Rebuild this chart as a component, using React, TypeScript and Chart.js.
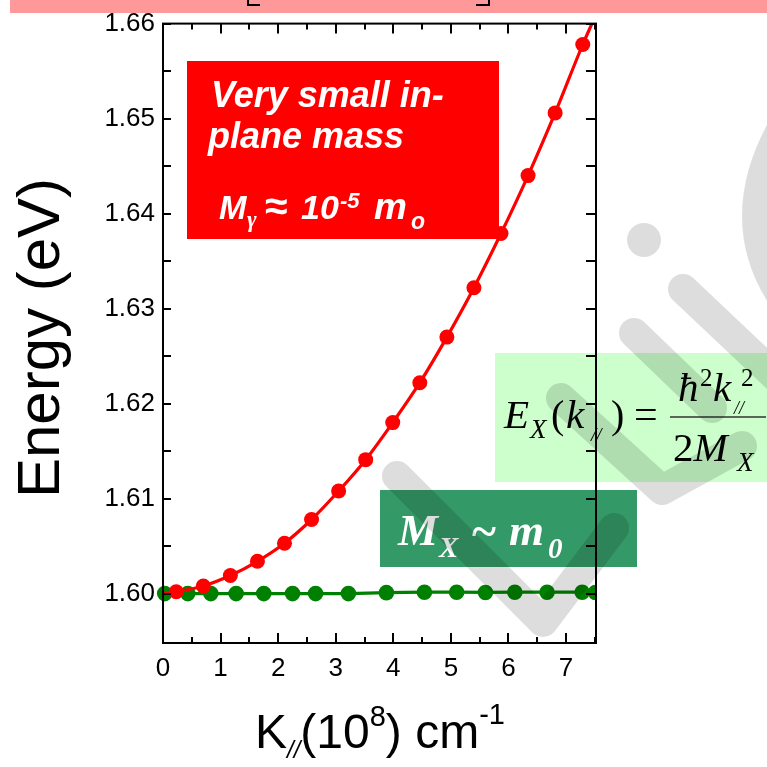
import React, { useEffect, useRef } from "react";
import { Chart, registerables } from "chart.js";
Chart.register(...registerables);

// ---- data ----
const redK = [0.23, 0.70, 1.17, 1.64, 2.11, 2.58, 3.05, 3.52, 3.99, 4.46, 4.93, 5.40, 5.87, 6.34, 6.81, 7.29];
const redE = [1.6002, 1.6008, 1.6019, 1.6034, 1.6053, 1.6078, 1.6108, 1.6141, 1.6180, 1.6222, 1.6270, 1.6322, 1.6379, 1.6440, 1.6506, 1.6578];
const redFitStart = { k: 0, e: 1.6000 };
const redFitEnd = { k: 7.45, e: 1.6600 };
const greenK = [0.03, 0.43, 0.83, 1.27, 1.75, 2.25, 2.65, 3.22, 3.88, 4.54, 5.10, 5.60, 6.11, 6.67, 7.28, 7.51];
const greenE = [1.6000, 1.6000, 1.6000, 1.6000, 1.6000, 1.6000, 1.6000, 1.6000, 1.60010, 1.60015, 1.60015, 1.60012, 1.60015, 1.60015, 1.60015, 1.60012];
const xTicks = [0, 1, 2, 3, 4, 5, 6, 7];
const xMinor = [0.5, 1.5, 2.5, 3.5, 4.5, 5.5, 6.5, 7.5];
const yTicks = [1.60, 1.61, 1.62, 1.63, 1.64, 1.65, 1.66];
const yMinor = [1.605, 1.615, 1.625, 1.635, 1.645, 1.655];
const yTickLabels = ["1.60", "1.61", "1.62", "1.63", "1.64", "1.65", "1.66"];

const SANS = "'Liberation Sans', Arial, sans-serif";
const SERIF = "'Liberation Serif', 'Times New Roman', serif";

type Seg = { t: string; f: string; x?: number; dy?: number; dx?: number };
function drawRich(ctx: CanvasRenderingContext2D, x: number, y: number, segs: Seg[], color: string) {
  ctx.fillStyle = color;
  ctx.textAlign = "left";
  ctx.textBaseline = "alphabetic";
  let cx = x;
  for (const s of segs) {
    ctx.font = s.f;
    if (s.x !== undefined) cx = s.x;
    cx += s.dx || 0;
    ctx.fillText(s.t, cx, y + (s.dy || 0));
    cx += ctx.measureText(s.t).width;
  }
}

const decorPlugin = {
  id: "decor",
  beforeDraw(chart: any) {
    const ctx: CanvasRenderingContext2D = chart.ctx;
    ctx.save();
    ctx.fillStyle = "#ffffff";
    ctx.fillRect(0, 0, chart.width, chart.height);
    ctx.fillStyle = "#FF9999";
    ctx.fillRect(10, 0, 757, 13);
    ctx.strokeStyle = "#000";
    ctx.lineWidth = 2;
    ctx.beginPath();
    ctx.moveTo(248, 0); ctx.lineTo(248, 5); ctx.lineTo(260, 5);
    ctx.moveTo(476, 5); ctx.lineTo(489, 5); ctx.lineTo(489, 0);
    ctx.stroke();
    ctx.restore();
  },
  beforeDatasetsDraw(chart: any) {
    const ctx: CanvasRenderingContext2D = chart.ctx;
    ctx.save();
    // red box
    ctx.fillStyle = "#FF0000";
    ctx.fillRect(187, 61, 312, 178);
    drawRich(ctx, 211, 107, [{ t: "Very small in-", f: `italic bold 36px ${SANS}` }], "#fff");
    drawRich(ctx, 208, 148, [{ t: "plane mass", f: `italic bold 36px ${SANS}` }], "#fff");
    const W = "#fff";
    drawRich(ctx, 0, 219, [{ t: "M", f: `italic bold 33px ${SANS}`, x: 219 }], W);
    drawRich(ctx, 0, 227, [{ t: "\u03b3", f: `italic bold 23px ${SERIF}`, x: 247 }], W);
    drawRich(ctx, 0, 220, [{ t: "\u2248", f: `bold 41px ${SANS}`, x: 265 }], W);
    drawRich(ctx, 0, 219, [{ t: "10", f: `italic bold 34px ${SANS}`, x: 301 }], W);
    drawRich(ctx, 0, 208, [{ t: "-5", f: `italic bold 22px ${SANS}`, x: 340 }], W);
    drawRich(ctx, 0, 219, [{ t: "m", f: `italic bold 37px ${SANS}`, x: 374 }], W);
    drawRich(ctx, 0, 229, [{ t: "o", f: `italic bold 23px ${SANS}`, x: 411 }], W);
    // light green formula box
    ctx.fillStyle = "#CCFFCC";
    ctx.fillRect(495, 353, 272, 129);
    const K = "#000";
    drawRich(ctx, 504, 428, [{ t: "E", f: `italic 41px ${SERIF}` }], K);
    drawRich(ctx, 530, 438, [{ t: "X", f: `italic 27px ${SERIF}` }], K);
    drawRich(ctx, 551, 428, [{ t: "(", f: `40px ${SERIF}` }], K);
    drawRich(ctx, 566, 428, [{ t: "k", f: `italic 41px ${SERIF}` }], K);
    drawRich(ctx, 591, 441, [{ t: "//", f: `italic 19px ${SERIF}` }], K);
    drawRich(ctx, 611, 428, [{ t: ")", f: `40px ${SERIF}` }], K);
    drawRich(ctx, 634, 428, [{ t: "=", f: `42px ${SERIF}` }], K);
    drawRich(ctx, 678, 401, [{ t: "\u0127", f: `italic 41px ${SERIF}` }], K);
    drawRich(ctx, 700, 386, [{ t: "2", f: `25px ${SERIF}` }], K);
    drawRich(ctx, 713, 401, [{ t: "k", f: `italic 41px ${SERIF}` }], K);
    drawRich(ctx, 734, 414, [{ t: "//", f: `italic 18px ${SERIF}` }], K);
    drawRich(ctx, 741, 386, [{ t: "2", f: `25px ${SERIF}` }], K);
    ctx.strokeStyle = "#333";
    ctx.lineWidth = 1.5;
    ctx.beginPath(); ctx.moveTo(670, 417); ctx.lineTo(766, 417); ctx.stroke();
    drawRich(ctx, 673, 461, [{ t: "2", f: `41px ${SERIF}` }, { t: "M", f: `italic 41px ${SERIF}` }], K);
    drawRich(ctx, 737, 471, [{ t: "X", f: `italic 27px ${SERIF}` }], K);
    // dark green box
    ctx.fillStyle = "#339966";
    ctx.fillRect(380, 490, 257, 77);
    drawRich(ctx, 398, 545, [{ t: "M", f: `italic bold 45px ${SERIF}` }], W);
    drawRich(ctx, 439, 557, [{ t: "X", f: `italic bold 29px ${SERIF}` }], W);
    drawRich(ctx, 472, 547, [{ t: "~", f: `bold 46px ${SERIF}` }], W);
    drawRich(ctx, 509, 545, [{ t: "m", f: `italic bold 45px ${SERIF}` }], W);
    drawRich(ctx, 548, 558, [{ t: "0", f: `italic bold 29px ${SERIF}` }], W);
    ctx.restore();
  },
  afterDatasetsDraw(chart: any) {
    const ctx: CanvasRenderingContext2D = chart.ctx;
    const a = chart.chartArea;
    const xs = chart.scales.x;
    const ys = chart.scales.y;
    ctx.save();
    ctx.strokeStyle = "#000";
    ctx.lineWidth = 2;
    ctx.strokeRect(a.left, a.top, a.right - a.left, a.bottom - a.top);
    ctx.beginPath();
    const tick = (vals: number[], len: number) => {
      for (const v of vals) {
        const px = Math.round(xs.getPixelForValue(v));
        if (px > a.right + 1) continue;
        ctx.moveTo(px, a.bottom); ctx.lineTo(px, a.bottom - len);
        ctx.moveTo(px, a.top); ctx.lineTo(px, a.top + len);
      }
    };
    const ytick = (vals: number[]) => {
      for (const v of vals) {
        const py = Math.round(ys.getPixelForValue(v));
        ctx.moveTo(a.left, py); ctx.lineTo(a.left + 8, py);
        ctx.moveTo(a.right, py); ctx.lineTo(a.right - 10, py);
      }
    };
    tick(xTicks, 10); tick(xMinor, 6);
    ytick(yTicks); ytick(yMinor);
    ctx.stroke();
    // axis titles
    ctx.save();
    ctx.translate(59, 338);
    ctx.rotate(-Math.PI / 2);
    ctx.fillStyle = "#000";
    ctx.font = `60px ${SANS}`;
    ctx.textAlign = "center";
    ctx.textBaseline = "alphabetic";
    ctx.fillText("Energy (eV)", 0, 0);
    ctx.restore();
    drawRich(ctx, 255, 748, [
      { t: "K", f: `48px ${SANS}` },
      { t: "//", f: `italic 24px ${SANS}`, dy: 10 },
      { t: "(10", f: `48px ${SANS}` },
      { t: "8", f: `29px ${SANS}`, dy: -22 },
      { t: ") cm", f: `48px ${SANS}` },
      { t: "-1", f: `29px ${SANS}`, dy: -24 },
    ], "#000");
    ctx.restore();
  },
  afterDraw(chart: any) {
    // grey watermark strokes
    const ctx: CanvasRenderingContext2D = chart.ctx;
    ctx.save();
    ctx.strokeStyle = "rgba(0,0,0,0.135)";
    ctx.fillStyle = "rgba(0,0,0,0.135)";
    ctx.lineCap = "round";
    ctx.lineJoin = "round";
    ctx.lineWidth = 30;
    const stroke = (pts: number[][]) => {
      ctx.beginPath();
      ctx.moveTo(pts[0][0], pts[0][1]);
      for (let i = 1; i < pts.length; i++) ctx.lineTo(pts[i][0], pts[i][1]);
      ctx.stroke();
    };
    stroke([[397, 476], [543, 622], [614, 528]]);
    stroke([[561, 398], [662, 490], [742, 446]]);
    stroke([[634, 333], [712, 408]]);
    stroke([[683, 289], [790, 390]]);
    ctx.beginPath();
    ctx.moveTo(800, 100);
    ctx.quadraticCurveTo(714, 222, 800, 320);
    ctx.stroke();
    ctx.beginPath();
    ctx.arc(644, 240, 17, 0, Math.PI * 2);
    ctx.fill();
    ctx.restore();
  },
};

export default function App() {
  const ref = useRef<HTMLCanvasElement | null>(null);
  useEffect(() => {
    if (!ref.current) return;
    const redPts = redK.map((k, i) => ({ x: k, y: redE[i] }));
    const fitPts = [{ x: redFitStart.k, y: redFitStart.e }, ...redPts, { x: redFitEnd.k, y: redFitEnd.e }];
    const greenPts = greenK.map((k, i) => ({ x: k, y: greenE[i] }));
    const clip = { left: 10, right: 0, top: 0, bottom: 0 };
    const chart = new Chart(ref.current, {
      type: "scatter",
      data: {
        datasets: [
          { label: "red", data: redPts, showLine: false, pointRadius: 7.5, pointHoverRadius: 7.5, backgroundColor: "#FF0000", borderWidth: 0, pointBorderWidth: 0, clip } as any,
          { label: "fit", data: fitPts, showLine: true, pointRadius: 0, borderColor: "#FF0000", borderWidth: 3.2, cubicInterpolationMode: "monotone", clip } as any,
          { label: "green", data: greenPts, showLine: true, pointRadius: 7.8, pointHoverRadius: 7.8, backgroundColor: "#008000", pointBorderWidth: 0, borderColor: "#008000", borderWidth: 3.2, clip } as any,
        ],
      },
      options: {
        responsive: false,
        animation: false,
        events: [],
        layout: { padding: { top: 19, right: 171, bottom: 0, left: 0 } },
        plugins: { legend: { display: false }, tooltip: { enabled: false } },
        scales: {
          x: {
            type: "linear",
            min: 0,
            max: 7.52,
            grid: { display: false, drawTicks: false },
            border: { display: false },
            afterBuildTicks: (s: any) => { s.ticks = xTicks.map((v) => ({ value: v })); },
            afterFit: (s: any) => { s.height = 124; },
            ticks: { color: "#000", font: { family: SANS, size: 26 }, padding: 10, maxRotation: 0, callback: (v: any) => String(v) },
          },
          y: {
            type: "linear",
            min: 1.5948,
            max: 1.66,
            grid: { display: false, drawTicks: false },
            border: { display: false },
            afterBuildTicks: (s: any) => { s.ticks = yTicks.map((v) => ({ value: v })); },
            afterFit: (s: any) => { s.width = 163; },
            ticks: {
              color: "#000",
              font: { family: SANS, size: 26 },
              padding: 8,
              callback: (v: any) => { const i = yTicks.findIndex((t) => Math.abs(t - v) < 1e-6); return i >= 0 ? yTickLabels[i] : ""; },
            },
          },
        },
      },
      plugins: [decorPlugin],
    });
    return () => chart.destroy();
  }, []);
  return (
    <div style={{ position: "absolute", left: 0, top: 0, width: 767, height: 767 }}>
      <canvas ref={ref} width={767} height={767} style={{ display: "block" }} />
    </div>
  );
}
